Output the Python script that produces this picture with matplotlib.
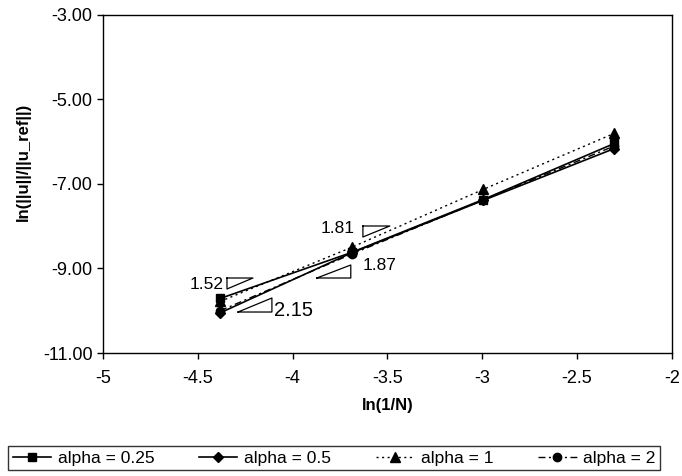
import matplotlib
matplotlib.use("Agg")
import matplotlib.pyplot as plt
import numpy as np

# ================== DATA ==================
N = [80, 40, 20, 10]
x_vals = [np.log(1.0 / n) for n in N]

err_025 = [-9.71, -8.62, -7.37, -6.04]
err_05 = [-10.05, -8.63, -7.39, -6.16]
err_1 = [-9.78, -8.50, -7.13, -5.80]
err_2 = [-10.00, -8.66, -7.38, -6.10]

series_labels = ["alpha = 0.25", "alpha = 0.5", "alpha = 1", "alpha = 2"]

# slope triangles (label, triangle corners, text pos, text align, font size)
slope_labels = ["1.52", "2.15", "1.81", "1.87"]
slope_tris = [
    [(-4.346, -9.225), (-4.209, -9.225), (-4.346, -9.485)],
    [(-4.288, -10.03), (-4.109, -10.03), (-4.109, -9.698)],
    [(-3.629, -7.994), (-3.487, -7.994), (-3.629, -8.254)],
    [(-3.872, -9.225), (-3.693, -9.225), (-3.693, -8.917)],
]
slope_text_pos = [(-4.362, -9.37), (-4.100, -9.99), (-3.672, -8.05), (-3.629, -8.93)]
slope_text_ha = ["right", "left", "right", "left"]
slope_text_size = [12.5, 14.5, 12.5, 12.5]

# ================== FIGURE ==================
plt.rcParams['font.family'] = ['Liberation Sans', 'DejaVu Sans']
plt.rcParams['axes.unicode_minus'] = False

fig = plt.figure(figsize=(6.82, 4.76), dpi=100)
ax = fig.add_axes([0.151, 0.2584, 0.834, 0.7101])

lw = 1.2
ax.plot(x_vals, err_025, color="black", lw=lw, ls="-", marker="s", ms=5.5, label=series_labels[0])
ax.plot(x_vals, err_05, color="black", lw=lw, ls="-", marker="D", ms=5, label=series_labels[1])
ax.plot(x_vals, err_1, color="black", lw=1.0, ls=(0, (1.5, 2.5)), marker="^", ms=6.5, label=series_labels[2])
ax.plot(x_vals, err_2, color="black", lw=1.0, ls=(0, (5, 2.5, 1.5, 2.5)), marker="o", ms=6, label=series_labels[3])

for lab, tri, pos, ha, fs in zip(slope_labels, slope_tris, slope_text_pos, slope_text_ha, slope_text_size):
    xs = [p[0] for p in tri] + [tri[0][0]]
    ys = [p[1] for p in tri] + [tri[0][1]]
    ax.plot(xs, ys, color="black", lw=0.9)
    ax.text(pos[0], pos[1], lab, ha=ha, va="center", fontsize=fs)

ax.set_xlim(-5, -2)
ax.set_ylim(-11, -3)
ax.set_xticks(np.arange(-5, -1.99, 0.5))
ax.set_xticklabels(["-5", "-4.5", "-4", "-3.5", "-3", "-2.5", "-2"])
ax.set_yticks([-11, -9, -7, -5, -3])
ax.set_yticklabels(["-11.00", "-9.00", "-7.00", "-5.00", "-3.00"])
ax.tick_params(axis="both", labelsize=13, direction="out", length=4, width=1, colors="black")
ax.tick_params(axis="x", pad=8)
for sp in ax.spines.values():
    sp.set_color("black")
    sp.set_linewidth(1.0)

ax.set_xlabel("ln(1/N)", fontsize=12, fontweight="bold", labelpad=8)
fig.text(0.035, 0.66, "ln(||u||/||u_ref||)", rotation=90, ha="center", va="center",
         fontsize=12, fontweight="bold")

leg = fig.legend(loc="lower left", bbox_to_anchor=(0.012, 0.012, 0.956, 0.056), mode="expand",
                 ncol=4, fontsize=12.5, frameon=True, fancybox=False, handlelength=2.2,
                 handletextpad=0.4, columnspacing=0.8, borderaxespad=0, borderpad=0.25)
leg.get_frame().set_edgecolor("black")
leg.get_frame().set_linewidth(1.0)

fig.savefig("out.png", dpi=100)
